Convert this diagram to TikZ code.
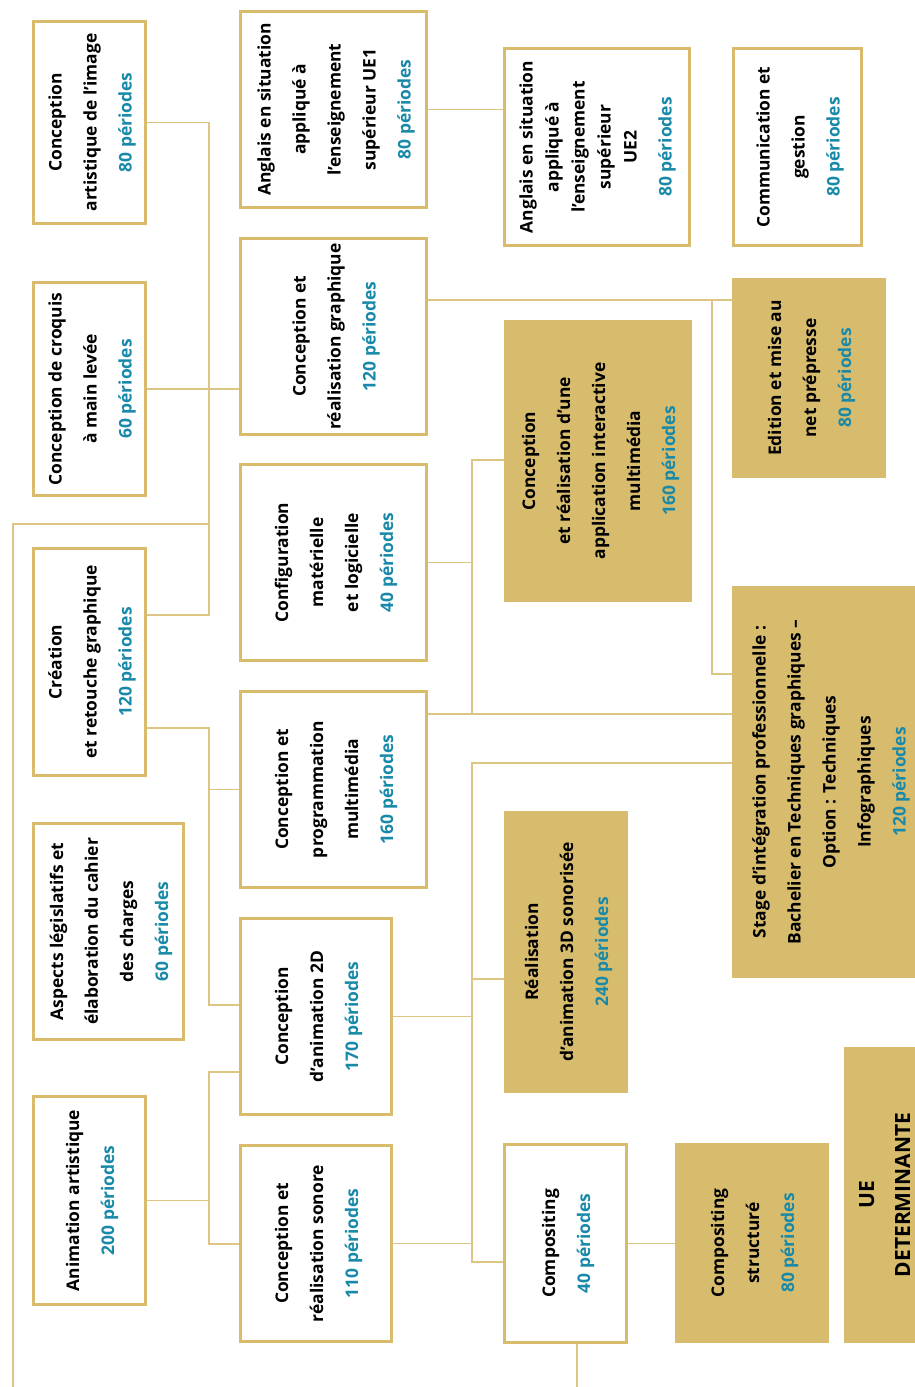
\documentclass[tikz,border=0pt]{standalone}
\usepackage{fontspec}
\setmainfont{Open Sans}
\usepackage{graphicx}
\definecolor{goldline}{RGB}{216,188,108}
\definecolor{goldfill}{RGB}{216,188,110}
\definecolor{connc}{RGB}{221,197,132}
\definecolor{pertxt}{RGB}{24,137,168}
\newcommand{\per}[1]{\textcolor{pertxt}{#1 périodes}}
\newcommand{\vtext}[2][35]{\rotatebox{90}{\fontsize{17.4}{#1}\selectfont\bfseries\begin{tabular}{@{}c@{}}#2\end{tabular}}}
\begin{document}
\begin{tikzpicture}[x=1pt,y=-1pt,
  wbox/.style={draw=goldline, line width=3pt, fill=white, inner sep=0pt, anchor=north west},
  gbox/.style={fill=goldfill, inner sep=0pt, outer sep=0pt, anchor=north west},
  conn/.style={draw=connc, line width=1.6pt}]
\useasboundingbox (0,0) rectangle (915,1387);
\fill[white] (0,0) rectangle (915,1387);

% column A
\node[wbox, minimum width=112pt, minimum height=202pt] (A1) at (32,20)
  {\vtext{Conception\\ artistique de l’image\\ \per{80}}};
\node[wbox, minimum width=112pt, minimum height=213pt] (A2) at (32,281)
  {\vtext{Conception de croquis\\ à main levée\\ \per{60}}};
\node[wbox, minimum width=112pt, minimum height=227pt] (A3) at (32,547)
  {\vtext{Création\\ et retouche graphique\\ \per{120}}};
\node[wbox, minimum width=150pt, minimum height=216pt] (A4) at (32,822)
  {\vtext{Aspects législatifs et\\ élaboration du cahier\\ des charges\\ \per{60}}};
\node[wbox, minimum width=112pt, minimum height=208pt] (A5) at (32,1095)
  {\vtext{Animation artistique\\ \per{200}}};

% column B
\node[wbox, minimum width=186pt, minimum height=196pt] (B1) at (239,10)
  {\vtext{Anglais en situation\\ appliqué à\\ l’enseignement\\ supérieur UE1\\ \per{80}}};
\node[wbox, minimum width=186pt, minimum height=196pt] (B2) at (239,237)
  {\vtext{Conception et\\ réalisation graphique\\ \per{120}}};
\node[wbox, minimum width=186pt, minimum height=196pt] (B3) at (239,463)
  {\vtext{Configuration\\ matérielle\\ et logicielle\\ \per{40}}};
\node[wbox, minimum width=186pt, minimum height=196pt] (B4) at (239,690)
  {\vtext{Conception et\\ programmation\\ multimédia\\ \per{160}}};
\node[wbox, minimum width=151pt, minimum height=196pt] (B5) at (239,917)
  {\vtext{Conception\\ d’animation 2D\\ \per{170}}};
\node[wbox, minimum width=151pt, minimum height=196pt] (B6) at (239,1144)
  {\vtext{Conception et\\ réalisation sonore\\ \per{110}}};

% column C
\node[wbox, minimum width=185pt, minimum height=197pt] (C1) at (503,47)
  {\vtext[26]{Anglais en situation\\ appliqué à\\ l’enseignement\\ supérieur\\ UE2\\[9pt] \per{80}}};
\node[gbox, minimum width=188pt, minimum height=282pt] (C2) at (504,320)
  {\vtext{Conception\\ et réalisation d’une\\ application interactive\\ multimédia\\ \per{160}}};
\node[gbox, minimum width=124pt, minimum height=282pt] (C3) at (504,811)
  {\vtext{Réalisation\\ d’animation 3D sonorisée\\ \per{240}}};
\node[wbox, minimum width=122pt, minimum height=198pt] (C4) at (503,1143)
  {\vtext{Compositing\\ \per{40}}};

% column D
\node[wbox, minimum width=128pt, minimum height=197pt] (D1) at (732,47)
  {\vtext{Communication et\\ gestion\\ \per{80}}};
\node[gbox, minimum width=154pt, minimum height=200pt] (D2) at (732,278)
  {\vtext{Edition et mise au\\ net prépresse\\ \per{80}}};
\node[gbox, minimum width=193pt, minimum height=392pt] (D3) at (732,586)
  {\vtext{Stage d’intégration professionnelle :\\ Bachelier en Techniques graphiques –\\ Option : Techniques\\ Infographiques\\ \per{120}}};
\node[gbox, minimum width=154pt, minimum height=200pt] (D4) at (675,1143)
  {\vtext{Compositing\\ structuré\\ \per{80}}};
\node[gbox, minimum width=82pt, minimum height=296pt] (D5) at (844,1047)
  {\rotatebox{90}{\fontsize{21}{36}\selectfont\bfseries\begin{tabular}{@{}c@{}}UE\\ DETERMINANTE\end{tabular}}};

% connectors
\coordinate (j1) at (209,615);
\coordinate (j2) at (209,524);
\coordinate (leftend) at (13,1387);
\draw[conn] (A1.east) -| (j1) -- (A3.east |- j1);
\draw[conn] (A2.east) -- (B2.west |- A2.east);
\draw[conn] (j2) -| (leftend);

\coordinate (j3) at (209,728);
\coordinate (j4) at (209,1005);
\draw[conn] (A3.east |- j3) -- (j3) -- (j4) -- (B5.west |- j4);
\draw[conn] (B4.west) -- (B4.west -| j3);

\coordinate (j5) at (209,1072);
\coordinate (j6) at (209,1244);
\draw[conn] (B5.west |- j5) -- (j5) -- (j6) -- (B6.west |- j6);
\draw[conn] (A5.east) -- (A5.east -| j5);

\draw[conn] (B1.east) -- (C1.west |- B1.east);

\coordinate (j7) at (712,300);
\coordinate (j8) at (712,674);
\draw[conn] (B2.east |- j7) -- (D2.west |- j7);
\draw[conn] (j7) -- (j8) -- (D3.west |- j8);

\coordinate (j9) at (472,460);
\coordinate (j10) at (472,714);
\draw[conn] (C2.west |- j9) -- (j9) -- (j10);
\draw[conn] (B4.east |- j10) -- (D3.west |- j10);
\draw[conn] (B3.east) -- (B3.east -| j9);

\coordinate (j11) at (472,763);
\coordinate (j12) at (472,1262);
\coordinate (j13) at (472,979);
\draw[conn] (D3.west |- j11) -- (j11) -- (j12) -- (C4.west |- j12);
\draw[conn] (j13) -- (C3.west |- j13);
\draw[conn] (B5.east) -- (B5.east -| j11);
\draw[conn] (B6.east) -- (B6.east -| j11);

\draw[conn] (C4.east) -- (D4.west |- C4.east);
\coordinate (cbot) at (577,1387);
\draw[conn] (C4.south -| cbot) -- (cbot);
\end{tikzpicture}
\end{document}
